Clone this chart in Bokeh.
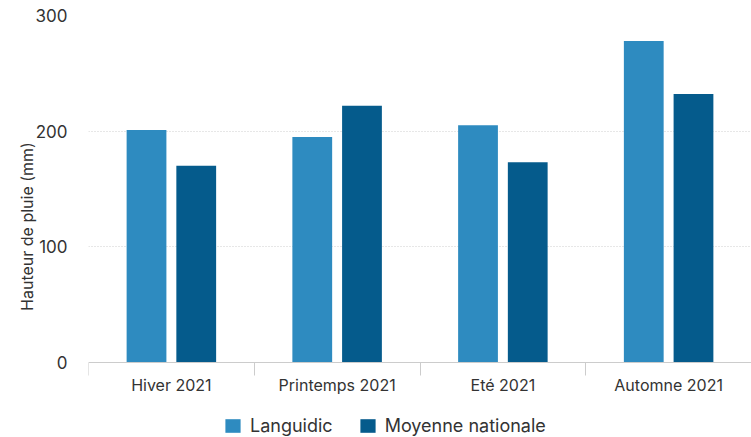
import numpy as np
from bokeh.plotting import figure
from bokeh.models import (ColumnDataSource, Range1d, FixedTicker, Legend, LegendItem)
from bokeh.transform import dodge
from bokeh.embed import file_html
from bokeh.resources import INLINE

categories = ["Hiver 2021", "Printemps 2021", "Eté 2021", "Automne 2021"]
languidic = [201, 195, 205, 278]
moyenne = [170, 222, 173, 232]
y_ticks = [0, 100, 200, 300]

series_names = ["Languidic", "Moyenne nationale"]
colors = ["#2e8bc0", "#055b8c"]

n = len(categories)
centers = np.arange(n) + 0.5
src = ColumnDataSource(dict(x=centers, cat=categories, lang=languidic, moy=moyenne))

FONT = "Inter"
TXT = "#333333"

p = figure(width=751, height=437, output_backend="svg", toolbar_location=None,
           x_range=Range1d(0, n), y_range=Range1d(-65, 300),
           min_border_left=88, min_border_right=0, min_border_top=15, min_border_bottom=0)
p.outline_line_color = None
p.background_fill_color = "white"
p.border_fill_color = "white"

r1 = p.vbar(x=dodge("x", -0.15, range=p.x_range), top="lang", width=0.24, source=src,
            fill_color=colors[0], line_color=None)
r2 = p.vbar(x=dodge("x", 0.15, range=p.x_range), top="moy", width=0.24, source=src,
            fill_color=colors[1], line_color=None)

xa = p.xaxis[0]
xa.fixed_location = 0
xa.ticker = FixedTicker(ticks=list(centers), minor_ticks=list(np.arange(n + 1)))
xa.major_label_overrides = {float(c): cat for c, cat in zip(centers, categories)}
xa.major_tick_out = 0
xa.major_tick_in = 0
xa.minor_tick_out = 13
xa.minor_tick_in = 0
xa.minor_tick_line_color = "#cccccc"
xa.axis_line_color = "#cccccc"
xa.major_label_standoff = 0
xa.major_label_text_font = FONT
xa.major_label_text_font_size = "16px"
xa.major_label_text_color = TXT

ya = p.yaxis[0]
ya.ticker = FixedTicker(ticks=y_ticks)
ya.axis_line_color = None
ya.major_tick_line_color = None
ya.minor_tick_line_color = None
ya.major_label_standoff = 15
ya.major_label_text_font = FONT
ya.major_label_text_font_size = "17px"
ya.major_label_text_color = TXT
ya.axis_label = "Hauteur de pluie (mm)"
ya.axis_label_text_font = FONT
ya.axis_label_text_font_size = "16px"
ya.axis_label_text_font_style = "normal"
ya.axis_label_text_color = TXT
ya.axis_label_standoff = -4

p.xgrid.grid_line_color = None
p.ygrid.ticker = FixedTicker(ticks=[100, 200, 300])
p.ygrid.grid_line_color = "#cfcfcf"
p.ygrid.grid_line_dash = "1 2"
p.ygrid.grid_line_width = 1

legend = Legend(items=[LegendItem(label=series_names[0], renderers=[r1]),
                       LegendItem(label=series_names[1], renderers=[r2])],
                orientation="horizontal", location=(135, 1),
                glyph_width=19, glyph_height=17, label_standoff=8, spacing=25,
                label_height=20,
                padding=0, margin=0, border_line_color=None,
                background_fill_alpha=0,
                label_text_font=FONT, label_text_font_size="18px",
                label_text_color=TXT)
p.add_layout(legend, "center")

open("out.html", "w").write(file_html(p, INLINE))
